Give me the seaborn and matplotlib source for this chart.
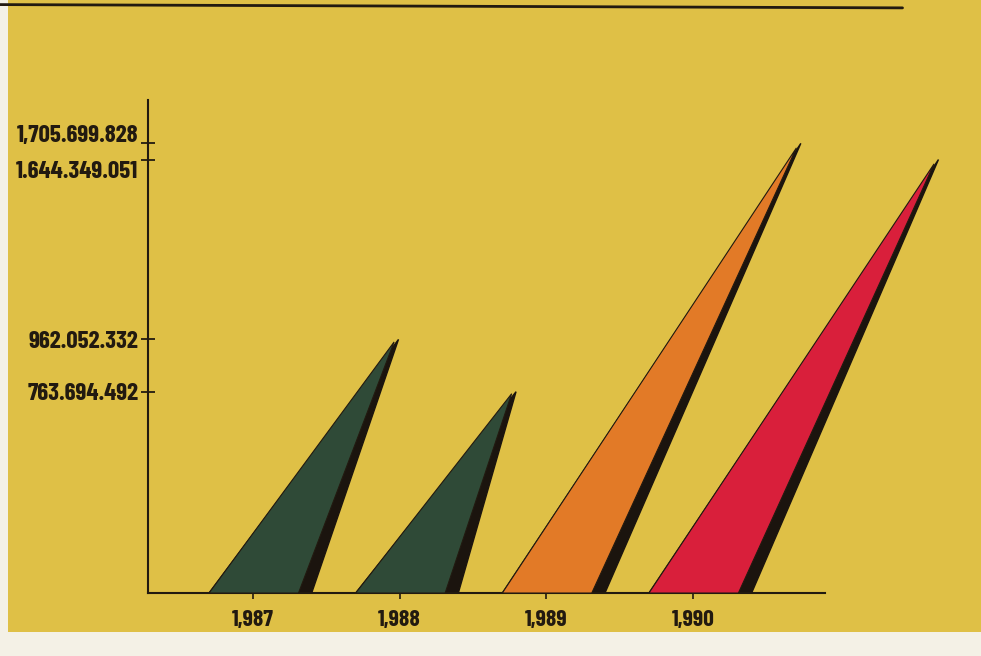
import seaborn as sns
import matplotlib.pyplot as plt
import matplotlib.transforms as mtransforms
import pandas as pd
from matplotlib.lines import Line2D
from matplotlib.patches import Rectangle

# data
years = ["1,987", "1,988", "1,989", "1,990"]
values = [962052332, 763694492, 1705699828, 1644349051]
value_labels = ["962.052.332", "763.694.492", "1,705.699.828", "1.644.349.051"]
colors = ["#2f4a37", "#2f4a37", "#e27a27", "#d91f3b"]

df = pd.DataFrame({"year": years, "value": values, "label": value_labels, "color": colors})

paper = "#dfc046"
ink = "#221a10"
shadow = "#1b140e"

sns.set_theme(style="ticks")
plt.rcParams['font.family'] = ['Barlow Condensed', 'DejaVu Sans']
plt.rcParams['font.weight'] = 'bold'

fig = plt.figure(figsize=(9.81, 6.56), dpi=100, facecolor=paper)
# scan edges
fig.patches.append(Rectangle((0, 0), 1, 0.036, transform=fig.transFigure,
                             facecolor="#f4f1e6", edgecolor="none", zorder=0))
fig.patches.append(Rectangle((0, 0), 0.008, 1, transform=fig.transFigure,
                             facecolor="#f4f1e6", edgecolor="none", zorder=0))
fig.add_artist(Line2D([0.0, 0.92], [0.993, 0.988], transform=fig.transFigure,
                      color=ink, lw=2))

ax = fig.add_axes([0.1509, 0.096, 0.690, 0.7515])
ax.set_facecolor("none")

# slanted spikes: apex leans right in proportion to the value
for i, row in df.iterrows():
    v = row["value"]
    left, right, sh_right = i - 0.30, i + 0.31, i + 0.40
    apex = i + v / 1e9
    ax.fill([left, sh_right, apex + 0.03], [0, 0, v], color=shadow,
            clip_on=False, zorder=2)
    ax.fill([left, right, apex], [0, 0, v * 0.99], facecolor=row["color"],
            edgecolor=ink, lw=0.8, clip_on=False, zorder=3)

ax.set_xlim(-0.716, 3.9)
ax.set_ylim(0, 1.87e9)
ax.set_xticks(range(len(years)), df["year"])
ax.set_yticks(df["value"], df["label"])

sns.despine(ax=ax)
for s in ["left", "bottom"]:
    ax.spines[s].set_color(ink)
    ax.spines[s].set_linewidth(1.5)

ax.tick_params(axis="y", direction="inout", length=10, width=1.3, color=ink,
               pad=2, labelsize=18, labelcolor=ink)
ax.tick_params(axis="x", direction="out", length=4, width=1.2, color=ink,
               pad=8, labelsize=17, labelcolor=ink)
ax.set_xlabel("")
ax.set_ylabel("")

# the two top labels sit close together, spread them a little
for lab in ax.get_yticklabels():
    txt = lab.get_text()
    if txt.startswith("1,705"):
        lab.set_transform(lab.get_transform() + mtransforms.ScaledTranslation(0, 7 / 72, fig.dpi_scale_trans))
    elif txt.startswith("1.644"):
        lab.set_transform(lab.get_transform() + mtransforms.ScaledTranslation(0, -7 / 72, fig.dpi_scale_trans))

fig.savefig("out.png", dpi=100, facecolor=fig.get_facecolor())
